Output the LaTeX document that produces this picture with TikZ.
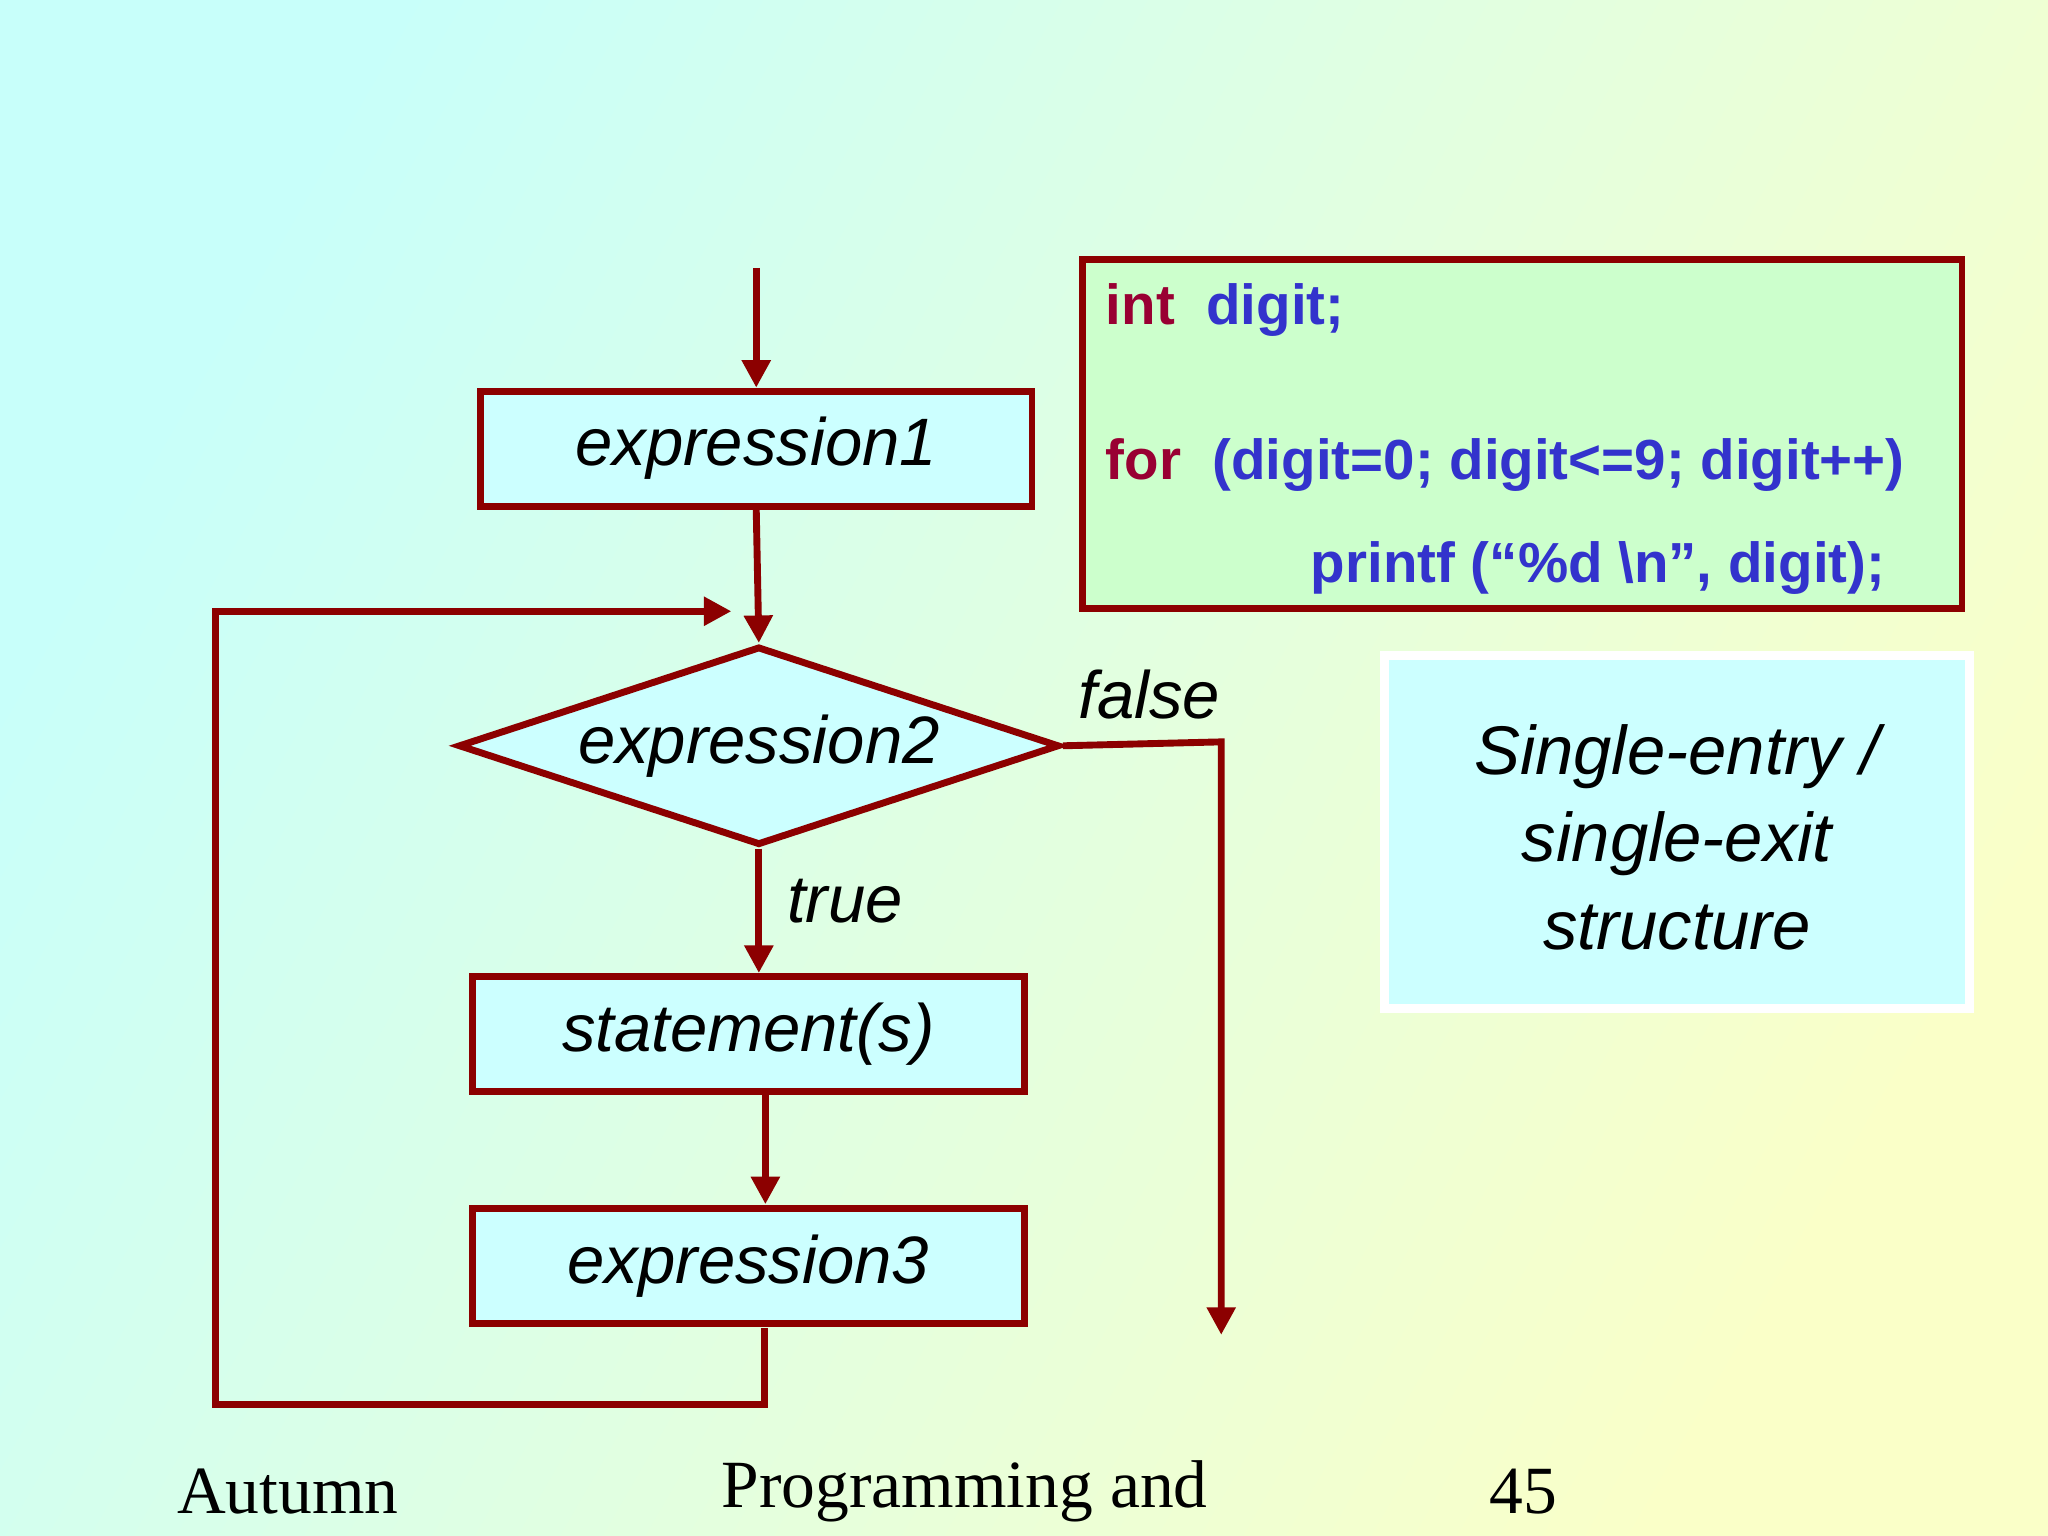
\documentclass[tikz,border=0pt]{standalone}
\usepackage{fontspec}
\setmainfont{Liberation Serif}
\newfontfamily\arial{Liberation Sans}
\usetikzlibrary{shapes.geometric,arrows.meta}
\definecolor{dred}{RGB}{140,0,0}
\definecolor{boxc}{RGB}{204,255,255}
\definecolor{greenc}{RGB}{204,255,204}
\definecolor{codeb}{RGB}{51,51,204}
\definecolor{kw}{RGB}{153,0,51}
\definecolor{bgA}{RGB}{200,255,250}
\definecolor{bgB}{RGB}{250,255,200}
\begin{document}
\begin{tikzpicture}[x=0.01cm,y=-0.01cm,
  line/.style={draw=dred,line width=1.5pt},
  arr/.style={line,-{Triangle[length=6pt,width=6pt]}},
  box/.style={line,fill=boxc,minimum height=0.88cm,inner sep=0pt,font=\arial\itshape\fontsize{14.6}{17}\selectfont},
  lbl/.style={font=\arial\itshape\fontsize{14.6}{17}\selectfont},
  code/.style={font=\arial\bfseries\fontsize{12.3}{15}\selectfont,anchor=west,inner sep=0pt,text=codeb}]
\useasboundingbox (0,0) rectangle (1568,1176);
\shade[shading=axis,left color=bgA,right color=bgB,shading angle=60] (0,0) rectangle (1568,1176);
% nodes
\coordinate (start) at (579,205);
\node[box,minimum width=4.22cm] (e1) at (579,343.5) {expression1};
\node[line,diamond,aspect=3.03,fill=boxc,minimum width=4.6cm,minimum height=1.52cm,inner sep=0pt,font=\arial\itshape\fontsize{14.6}{17}\selectfont] (e2) at (581,571) {expression2};
\node[box,minimum width=4.22cm] (st) at (573,791.5) {statement(s)};
\node[box,minimum width=4.22cm] (e3) at (573,969.5) {expression3};
\coordinate (c1) at (585,1075);
\coordinate (c2) at (165,1075);
\coordinate (c3) at (165,468);
\coordinate (c4) at (560,468);
\coordinate (f1) at (935,568);
\coordinate (f2) at (935,1022);
% connectors
\draw[arr] (start) -- (e1.north);
\draw[arr] (e1.south) -- (e2.north);
\draw[arr] (e2.south) -- (581,745);
\draw[arr] (586,838) -- (586,922);
\draw[arr] (585,1017) -- (c1) -- (c2) -- (c3) -- (c4);
\draw[arr] (e2.east) -- (f1) -- (f2);
\node[lbl] (fl) at (880,532) {false};
\node[lbl] (tl) at (647,690) {true};
% code box
\node[line,fill=greenc,minimum width=6.73cm,minimum height=2.67cm,inner sep=0pt] (cb) at (1165.5,332.5) {};
\node[code] (l1) at (846,237) {\textcolor{kw}{int}\ \ digit;};
\node[code] (l2) at (846,356) {\textcolor{kw}{for}\ \ (digit=0; digit<=9; digit++)};
\node[code] (l3) at (1003,435) {printf (“\%d \textbackslash n”, digit);};
% note
\node[draw=white,line width=2pt,fill=boxc,minimum width=4.48cm,minimum height=2.7cm,inner sep=0pt] (nb) at (1284,637) {};
\node[lbl,align=center,font=\arial\itshape\fontsize{15}{19}\selectfont] (nt) at (1284,641) {Single-entry /\\single-exit\\structure};
% footer
\node[font=\fontsize{14.7}{17}\selectfont,anchor=west,inner sep=0pt] (ft1) at (135,1142) {Autumn};
\node[font=\fontsize{14.7}{17}\selectfont,anchor=west,inner sep=0pt] (ft2) at (552,1142) {Programming and};
\node[font=\fontsize{14.7}{17}\selectfont,anchor=west,inner sep=0pt] (ft3) at (1140,1142) {45};
\end{tikzpicture}
\end{document}
